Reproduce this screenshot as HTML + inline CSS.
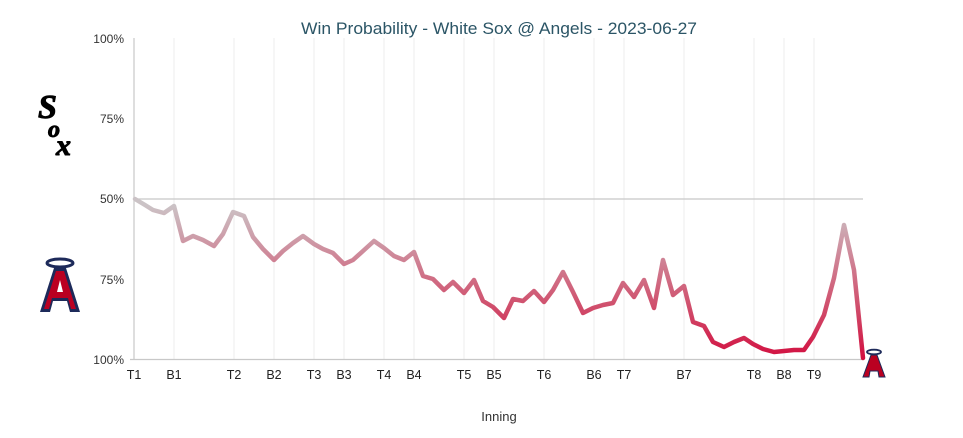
<!DOCTYPE html>
<html><head><meta charset="utf-8"><style>
body{margin:0;background:#fff;}
svg{display:block;font-family:"Liberation Sans",sans-serif;}
</style></head><body>
<svg width="963" height="438" viewBox="0 0 963 438">
<defs>
<linearGradient id="g" gradientUnits="userSpaceOnUse" x1="0" y1="205" x2="0" y2="359">
<stop offset="0" stop-color="#cbc3c6"/>
<stop offset="0.35" stop-color="#cf8496"/>
<stop offset="0.65" stop-color="#d0506d"/>
<stop offset="1" stop-color="#d20f40"/>
</linearGradient>
</defs>
<text x="499" y="34" text-anchor="middle" font-size="17" fill="#2b5566" textLength="396" lengthAdjust="spacingAndGlyphs">Win Probability - White Sox @ Angels - 2023-06-27</text>
<g stroke="#eeeeee" stroke-width="1">
<line x1="174" y1="38" x2="174" y2="359"/><line x1="234" y1="38" x2="234" y2="359"/>
<line x1="274" y1="38" x2="274" y2="359"/><line x1="314" y1="38" x2="314" y2="359"/>
<line x1="344" y1="38" x2="344" y2="359"/><line x1="384" y1="38" x2="384" y2="359"/>
<line x1="414" y1="38" x2="414" y2="359"/><line x1="464" y1="38" x2="464" y2="359"/>
<line x1="494" y1="38" x2="494" y2="359"/><line x1="544" y1="38" x2="544" y2="359"/>
<line x1="594" y1="38" x2="594" y2="359"/><line x1="624" y1="38" x2="624" y2="359"/>
<line x1="684" y1="38" x2="684" y2="359"/><line x1="754" y1="38" x2="754" y2="359"/>
<line x1="784" y1="38" x2="784" y2="359"/><line x1="814" y1="38" x2="814" y2="359"/>
</g>
<line x1="134" y1="199" x2="863" y2="199" stroke="#c8c8c8" stroke-width="1.2"/>
<line x1="134" y1="38" x2="134" y2="360" stroke="#c8c8c8" stroke-width="1.2"/>
<line x1="130" y1="359.5" x2="863" y2="359.5" stroke="#c8c8c8" stroke-width="1.2"/>
<g font-size="12" fill="#333" text-anchor="end">
<text x="124" y="43">100%</text><text x="124" y="123">75%</text>
<text x="124" y="203">50%</text><text x="124" y="284">75%</text><text x="124" y="364">100%</text>
</g>
<g font-size="12.5" fill="#222" text-anchor="middle">
<text x="134" y="379">T1</text><text x="174" y="379">B1</text><text x="234" y="379">T2</text>
<text x="274" y="379">B2</text><text x="314" y="379">T3</text><text x="344" y="379">B3</text>
<text x="384" y="379">T4</text><text x="414" y="379">B4</text><text x="464" y="379">T5</text>
<text x="494" y="379">B5</text><text x="544" y="379">T6</text><text x="594" y="379">B6</text>
<text x="624" y="379">T7</text><text x="684" y="379">B7</text><text x="754" y="379">T8</text>
<text x="784" y="379">B8</text><text x="814" y="379">T9</text>
</g>
<text x="499" y="421" text-anchor="middle" font-size="13" fill="#333">Inning</text>
<polyline fill="none" stroke="url(#g)" stroke-width="4.5" stroke-linejoin="round" stroke-linecap="round" points="135,199 145,205 153,210 164,213 174,206 183,241 193,236 203,240 214,246 223,234 233,212 244,216 253,237 263,249 274,260 283,251 293,243 303,236 314,244 323,249 333,253 344,264 353,260 363,251 374,241 384,248 394,256 404,260 414,252 423,276 433,279 444,290 453,282 464,293 474,280 483,301 493,307 504,318 513,299 523,301 534,291 544,302 553,290 563,272 573,292 583,313 593,308 603,305 613,303 623,283 634,297 644,280 654,308 663,260 673,295 684,286 693,322 704,326 713,342 724,347 734,342 744,338 753,344 763,349 774,352 784,351 794,350 804,350 813,337 824,315 834,278 844,225 854,270 863,358"/>
<!-- White Sox logo -->
<g font-family="'Liberation Serif',serif" font-weight="bold" fill="#000" stroke="#000" stroke-width="1">
<text x="38" y="118" font-size="34" font-style="italic">S</text>
<text x="48" y="137" font-size="24" font-style="italic">o</text>
<text x="56" y="155" font-size="30" font-style="italic">x</text>
</g>
<!-- Angels logo -->
<g>
<ellipse cx="60" cy="263" rx="13" ry="4" fill="none" stroke="#1d2a5a" stroke-width="3"/>
<polygon points="54,268 66,268 80,312 70,312 67,301 53,301 50,312 40,312" fill="#1d2a5a"/>
<polygon points="56,271 64,271 76,309 71,309 68,298 52,298 49,309 44,309" fill="#ba0021"/>
<polygon points="57,292 63,292 60,280" fill="#fff"/>
</g>
<g>
<ellipse cx="874" cy="352" rx="7" ry="2.3" fill="none" stroke="#1d2a5a" stroke-width="1.8"/>
<polygon points="871,355 877,355 885,377 879,377 878,371 870,371 869,377 863,377" fill="#ba0021" stroke="#1d2a5a" stroke-width="1"/>
</g>
</svg>
</body></html>
